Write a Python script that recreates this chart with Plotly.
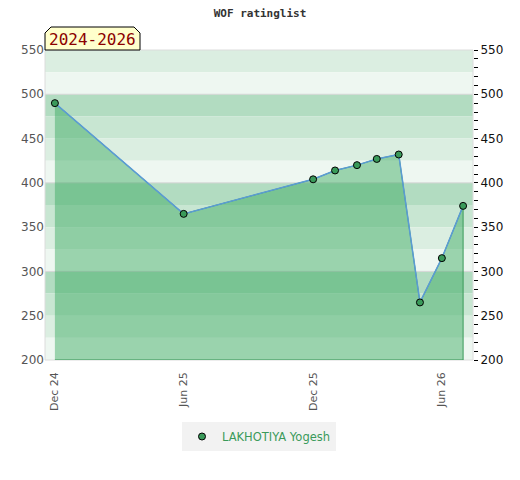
import plotly.graph_objects as go

# ---------------------------------- 데이터
player = "LAKHOTIYA Yogesh"
period_label = "2024-2026"
dates = ["2024-12-01", "2025-06-01", "2025-12-01", "2026-01-01", "2026-02-01",
         "2026-03-01", "2026-04-01", "2026-05-01", "2026-06-01", "2026-07-01"]
ratings = [490, 365, 404, 414, 420, 427, 432, 265, 315, 374]

tick_dates = ["2024-12-01", "2025-06-01", "2025-12-01", "2026-06-01"]
tick_labels = ["Dec 24", "Jun 25", "Dec 25", "Jun 26"]

y_min, y_max = 200, 550
x_range = ["2024-11-17", "2026-07-15"]

green = "#3a9a5a"
band_colors = ["#b2dcc1", "#c8e6d2", "#dbeee1", "#eef7f1"]  # 100 단위 안에서 위->아래

fig = go.Figure()

# 면적 (첫/끝 점에서 바닥까지 세로선 포함)
fig.add_trace(go.Scatter(
    x=dates + [dates[-1], dates[0]],
    y=ratings + [y_min, y_min],
    fill="toself",
    fillcolor="rgba(52,167,91,0.45)",
    line=dict(color=green, width=1),
    mode="lines",
    hoverinfo="skip",
    showlegend=False,
))

# 선
fig.add_trace(go.Scatter(
    x=dates, y=ratings, mode="lines",
    line=dict(color="#5b9bd5", width=1.5),
    hoverinfo="skip", showlegend=False,
))

# 마커 (범례에는 점만)
fig.add_trace(go.Scatter(
    x=dates, y=ratings, mode="markers", name=player,
    marker=dict(color=green, size=7, line=dict(color="black", width=1)),
))

# 오른쪽 축용 보이지 않는 trace
fig.add_trace(go.Scatter(x=dates, y=ratings, yaxis="y2", mode="markers",
                         marker=dict(opacity=0), showlegend=False, hoverinfo="skip"))

# 배경 띠
shapes = []
for lo in range(y_max - 25, y_min - 1, -25):
    top = lo + 25
    idx = (600 - top) // 25 % 4
    shapes.append(dict(type="rect", xref="paper", yref="y", x0=0, x1=1, y0=lo, y1=top,
                       fillcolor=band_colors[idx], line_width=0, layer="below"))
for g in range(300, 501, 100):
    shapes.append(dict(type="line", xref="paper", yref="y", x0=0, x1=1, y0=g, y1=g,
                       line=dict(color="#d6d6d6", width=1), layer="below"))
# 테두리
shapes.append(dict(type="rect", xref="paper", yref="paper", x0=0, x1=1, y0=0, y1=1,
                   line=dict(color="#dcdcdc", width=1), layer="below"))
# 기간 라벨 상자 (윗모서리 깎임)
pw, ph = 428, 310
w, h, c = 95 / pw, 23 / ph, 6
shapes.append(dict(
    type="path", xref="paper", yref="paper",
    path=(f"M 0 1 L 0 {1 + h - c / ph} L {c / pw} {1 + h} L {w - c / pw} {1 + h} "
          f"L {w} {1 + h - c / ph} L {w} 1 Z"),
    fillcolor="#ffffcc", line=dict(color="black", width=1), layer="above"))

fig.update_layout(
    width=520, height=480,
    margin=dict(l=37, r=55, t=42, b=128),
    paper_bgcolor="white", plot_bgcolor="white",
    shapes=shapes,
    title=dict(text="<b>WOF ratinglist</b>", x=(260 - 8) / 520, xanchor="center",
               y=1 - 5 / 480, yanchor="middle",
               font=dict(family="DejaVu Sans Mono", size=11, color="#333")),
    annotations=[dict(text=period_label, xref="paper", yref="paper", x=w / 2, y=1 + 11 / ph,
                      xanchor="center", yanchor="middle", showarrow=False,
                      font=dict(family="DejaVu Sans Mono", size=16, color="#8b0000"))],
    xaxis=dict(type="date", range=x_range, tickvals=tick_dates, ticktext=tick_labels,
               tickangle=-90, showgrid=False, zeroline=False, showline=False, ticks="",
               ticklabelstandoff=9,
               tickfont=dict(family="DejaVu Sans", size=11, color="#555")),
    yaxis=dict(range=[y_min, y_max], dtick=50, showgrid=False, zeroline=False, ticks="",
               tickfont=dict(family="DejaVu Sans", size=12, color="#555")),
    yaxis2=dict(range=[y_min, y_max], overlaying="y", side="right", dtick=50,
                showgrid=False, zeroline=False, ticks="outside", ticklen=4, tickcolor="black",
                minor=dict(dtick=10, ticks="outside", ticklen=4, tickcolor="black"),
                tickfont=dict(family="DejaVu Sans", size=12, color="#111")),
    legend=dict(orientation="h", x=0.5, xanchor="center", y=-0.2, yanchor="top",
                itemwidth=30,
                bgcolor="#f2f2f2", font=dict(family="DejaVu Sans", size=11.5, color=green)),
    showlegend=True,
)

fig.write_html("out.html")
